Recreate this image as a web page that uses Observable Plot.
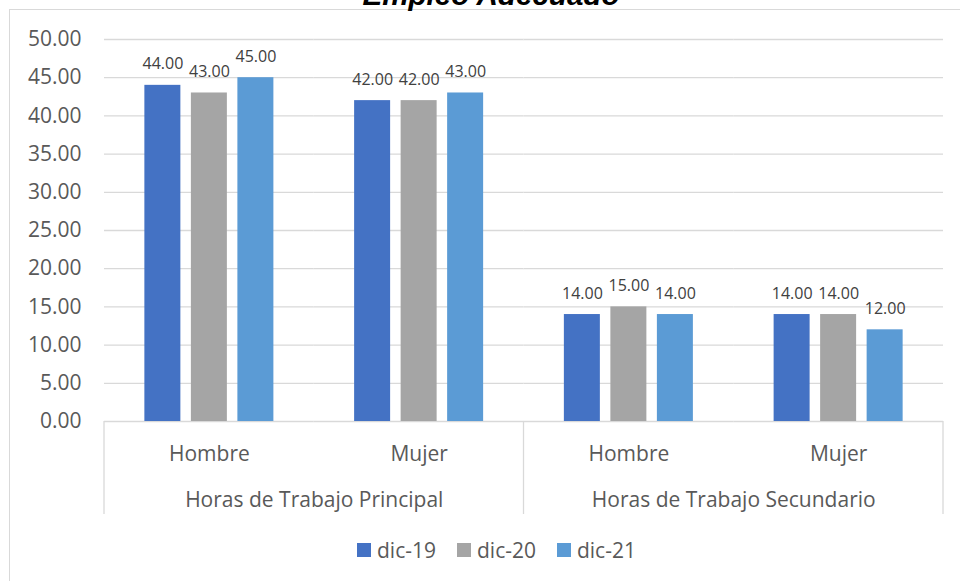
<!DOCTYPE html>
<html>
<head>
<meta charset="utf-8">
<script src="https://cdn.jsdelivr.net/npm/d3@7"></script>
<script src="https://cdn.jsdelivr.net/npm/@observablehq/plot@0.6"></script>
<style>
  html, body { margin: 0; padding: 0; background: #fff; }
  #wrap { position: relative; width: 960px; height: 581px; overflow: hidden; background: #fff; }
  #border { position: absolute; left: 9px; top: 9px; width: 1200px; height: 1200px; border: 1.5px solid #d9d9d9; }
  #chart { position: absolute; left: 0; top: 0; }
  #legend { position: absolute; top: 540px; left: 357px; display: flex; gap: 21px;
            font-family: "Open Sans", sans-serif; font-size: 21px; color: #595959; line-height: 20px; }
  .item { display: flex; align-items: center; gap: 6px; }
  .sw { width: 14px; height: 14px; display: inline-block; }
</style>
</head>
<body>
<div id="wrap">
  <div id="border"></div>
  <div id="chart"></div>
  <div id="legend"></div>
</div>
<script>
// ---- data ----
const title = "Empleo Adecuado";
const groups = ["Horas de Trabajo Principal", "Horas de Trabajo Secundario"];
const subs = ["Hombre", "Mujer"];
const series = ["dic-19", "dic-20", "dic-21"];
const colors = ["#4472C4", "#A5A5A5", "#5B9BD5"];
const dic19 = [44, 42, 14, 14];
const dic20 = [43, 42, 15, 14];
const dic21 = [45, 43, 14, 12];
const yTicks = [0, 5, 10, 15, 20, 25, 30, 35, 40, 45, 50];

// ---- build table ----
const keys = groups.flatMap(g => subs.map(s => g + "|" + s));
const seriesValues = [dic19, dic20, dic21];
const rows = [];
keys.forEach((k, i) => {
  const [g, s] = k.split("|");
  series.forEach((se, j) => rows.push({key: k, group: g, sub: s, series: se, value: seriesValues[j][i]}));
});

const chart = Plot.plot({
  width: 960,
  height: 581,
  marginLeft: 104,
  marginRight: 17,
  marginTop: 39,
  marginBottom: 160,
  style: {fontFamily: "Open Sans, sans-serif", fontSize: "21px", color: "#595959", background: "transparent", overflow: "visible"},
  facet: {data: rows, x: "key"},
  fx: {domain: keys, padding: 0, round: false, label: null, tickSize: 0, tickPadding: 25, tickFormat: k => k.split("|")[1]},
  x: {domain: series, paddingInner: 0.226, paddingOuter: 0.868, round: false, axis: null},
  y: {domain: [0, 50], ticks: yTicks, tickFormat: d => d.toFixed(2), tickSize: 0, tickPadding: 23, label: null},
  color: {domain: series, range: colors},
  marks: [
    Plot.ruleY(yTicks, {stroke: "#d9d9d9", strokeWidth: 1.3}),
    Plot.barY(rows, {x: "series", y: "value", fill: "series"}),
    Plot.text(rows, {x: "series", y: "value", text: d => d.value.toFixed(2), dy: -21, fontSize: 16, fill: "#404040"}),
    Plot.text(rows, {filter: d => d.sub === subs[0] && d.series === series[0], text: "group",
      frameAnchor: "bottom-right", textAnchor: "middle", dy: 85, fill: "#595959", fontSize: 21})
  ]
});
document.getElementById("chart").appendChild(chart);

// category box separators (at group boundaries) below the axis
const svg = d3.select(chart);
const fx = chart.scale("fx");
const ys = chart.scale("y");
const step = fx.step || (fx.range[1] - fx.range[0]) / keys.length;
const y0 = ys.range[0];
[0, subs.length, keys.length].forEach(i => {
  const x = fx.range[0] + i * step;
  svg.append("line").attr("x1", x).attr("x2", x).attr("y1", y0).attr("y2", y0 + 93)
    .attr("stroke", "#d9d9d9").attr("stroke-width", 1.3);
});
// title (cut off at top as in the reference)
svg.append("text").attr("x", 491).attr("y", 4.5).attr("text-anchor", "middle")
  .attr("font-family", "Liberation Sans, Arial, sans-serif").attr("font-weight", "bold")
  .attr("font-style", "italic").attr("font-size", 29.6).attr("fill", "#000").text(title);

// legend
const legend = d3.select("#legend");
series.forEach((s, i) => {
  const it = legend.append("div").attr("class", "item");
  it.append("span").attr("class", "sw").style("background", colors[i]);
  it.append("span").text(s);
});
</script>
</body>
</html>
